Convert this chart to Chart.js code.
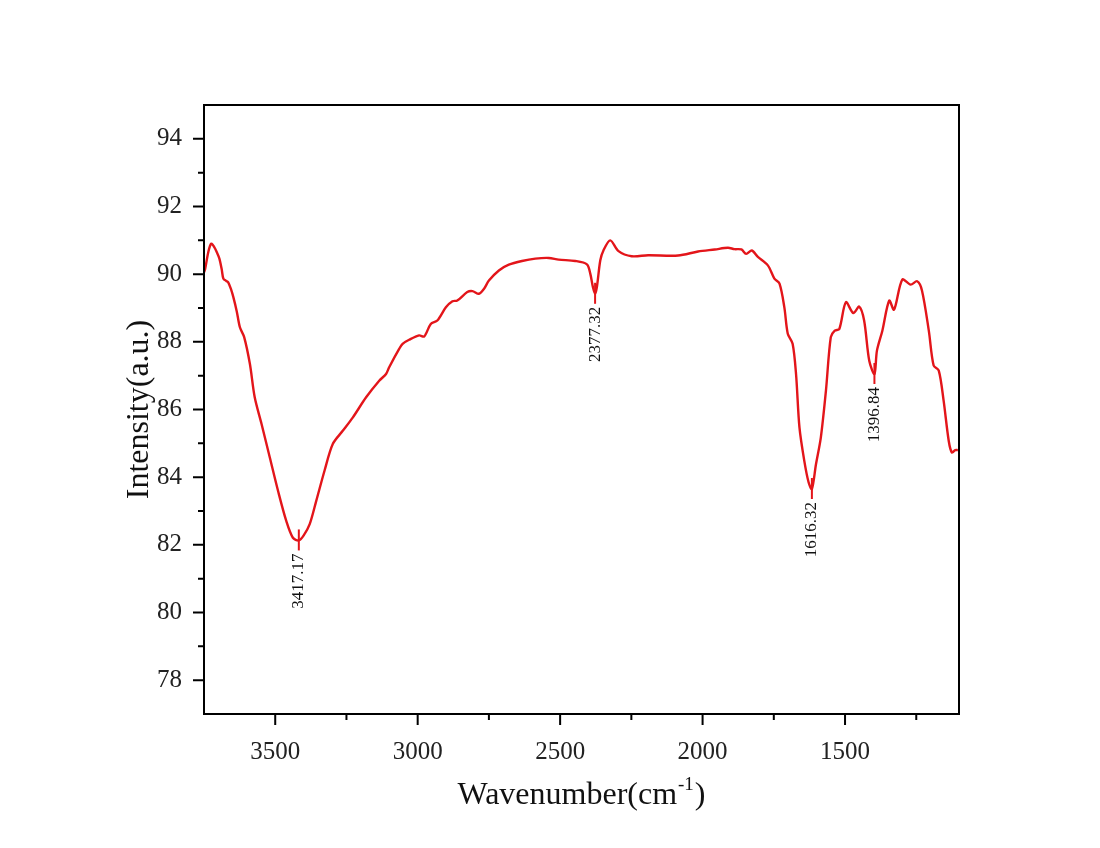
<!DOCTYPE html>
<html>
<head>
<meta charset="utf-8">
<title>FTIR spectrum</title>
<script src="https://cdn.jsdelivr.net/npm/chart.js@4/dist/chart.umd.min.js"></script>
<style>
  body { margin: 0; background: #fff; }
  canvas { display: block; }
</style>
</head>
<body>
<canvas id="ftirChart" width="1100" height="848"></canvas>
<script>
// Spectrum: wavenumber (cm-1) and intensity (a.u.)
const wavenumbers = [
  3750, 3746, 3735, 3725, 3714, 3705, 3696, 3688, 3682, 3672, 3665, 3655, 3647, 3635,
  3624, 3609, 3589, 3572, 3548, 3519, 3490, 3461, 3438, 3417.17, 3400, 3379, 3356,
  3327, 3298, 3263, 3228, 3181, 3135, 3111, 3100, 3065, 3053, 3030, 2995, 2977, 2954,
  2931, 2901, 2878, 2861, 2826, 2808, 2785, 2767, 2750, 2715, 2680, 2634, 2587, 2540,
  2505, 2447, 2406, 2394, 2385, 2377.32, 2371, 2359, 2348, 2324, 2295, 2249, 2191,
  2086, 2016, 1957, 1911, 1888, 1864, 1847, 1827, 1806, 1771, 1748, 1730, 1713, 1701,
  1684, 1672, 1660, 1643, 1628, 1616.32, 1602, 1585, 1567, 1550, 1536, 1520, 1497,
  1471, 1450, 1433, 1415, 1396.84, 1388, 1369, 1345, 1328, 1299, 1270, 1247, 1230,
  1206, 1189, 1171, 1154, 1136, 1125, 1113, 1104
];
const intensity = [
  90.05, 90.15, 90.65, 90.90, 90.80, 90.65, 90.46, 90.15, 89.87, 89.80, 89.76, 89.55, 89.32, 88.90,
  88.43, 88.14, 87.35, 86.36, 85.57, 84.58, 83.59, 82.70, 82.21, 82.13, 82.28, 82.61, 83.30,
  84.19, 84.98, 85.37, 85.76, 86.36, 86.85, 87.05, 87.25, 87.79, 87.94, 88.06, 88.19, 88.16, 88.53,
  88.63, 89.02, 89.20, 89.22, 89.47, 89.50, 89.42, 89.57, 89.81, 90.11, 90.28, 90.39, 90.46, 90.48,
  90.43, 90.39, 90.29, 90.01, 89.62, 89.42, 89.62, 90.41, 90.70, 91.00, 90.68, 90.53, 90.56,
  90.55, 90.67, 90.73, 90.78, 90.74, 90.73, 90.60, 90.70, 90.51, 90.26, 89.87, 89.72, 89.02, 88.24,
  87.94, 87.05, 85.47, 84.48, 83.85, 83.65, 84.38, 85.17, 86.56, 88.14, 88.33, 88.38, 89.17,
  88.85, 89.04, 88.63, 87.44, 87.05, 87.74, 88.33, 89.22, 88.95, 89.84, 89.69, 89.79, 89.52,
  88.33, 87.30, 87.15, 86.26, 85.07, 84.73, 84.80, 84.80
];

// Labelled absorption peaks
const peakWavenumbers = [3417.17, 2377.32, 1616.32, 1396.84];
const peakIntensity = [82.13, 89.42, 83.65, 87.05];

// Tick positions
const xMajorTicks = [3500, 3000, 2500, 2000, 1500];
const xMinorTicks = [3250, 2750, 2250, 1750, 1250];
const yMajorTicks = [78, 80, 82, 84, 86, 88, 90, 92, 94];
const yMinorTicks = [79, 81, 83, 85, 87, 89, 91, 93];

const SERIF = '"Liberation Serif", "Times New Roman", serif';
const RED = '#e3151a';

// frame, tick marks, axis titles and peak labels
const decorations = {
  id: 'decorations',
  afterDraw(chart) {
    const { ctx, chartArea: a, scales: { x, y } } = chart;
    ctx.save();

    // box around the plot
    ctx.strokeStyle = '#000';
    ctx.lineWidth = 2;
    ctx.strokeRect(a.left, a.top, a.right - a.left, a.bottom - a.top);

    // outward tick marks
    ctx.beginPath();
    xMajorTicks.forEach(v => { const px = x.getPixelForValue(v); ctx.moveTo(px, a.bottom); ctx.lineTo(px, a.bottom + 11); });
    xMinorTicks.forEach(v => { const px = x.getPixelForValue(v); ctx.moveTo(px, a.bottom); ctx.lineTo(px, a.bottom + 6); });
    yMajorTicks.forEach(v => { const py = y.getPixelForValue(v); ctx.moveTo(a.left, py); ctx.lineTo(a.left - 11, py); });
    yMinorTicks.forEach(v => { const py = y.getPixelForValue(v); ctx.moveTo(a.left, py); ctx.lineTo(a.left - 6, py); });
    ctx.stroke();

    // peak markers and rotated labels
    peakWavenumbers.forEach((wn, i) => {
      const px = x.getPixelForValue(wn);
      const py = y.getPixelForValue(peakIntensity[i]);
      ctx.strokeStyle = RED;
      ctx.lineWidth = 2;
      ctx.beginPath();
      ctx.moveTo(px, py - 11);
      ctx.lineTo(px, py + 10);
      ctx.stroke();

      ctx.save();
      ctx.translate(px, py + 13);
      ctx.rotate(-Math.PI / 2);
      ctx.fillStyle = '#111';
      ctx.font = '17px ' + SERIF;
      ctx.textAlign = 'right';
      ctx.textBaseline = 'middle';
      ctx.fillText(wn.toFixed(2), 0, 0);
      ctx.restore();
    });

    // x title with superscript
    ctx.fillStyle = '#111';
    ctx.textBaseline = 'alphabetic';
    ctx.textAlign = 'left';
    const big = '32px ' + SERIF, small = '19px ' + SERIF;
    ctx.font = big;
    const w1 = ctx.measureText('Wavenumber(cm').width;
    const w3 = ctx.measureText(')').width;
    ctx.font = small;
    const w2 = ctx.measureText('-1').width + 2;
    const tx = (a.left + a.right) / 2 - (w1 + w2 + w3) / 2;
    const base = 804;
    ctx.font = big;
    ctx.fillText('Wavenumber(cm', tx, base);
    ctx.font = small;
    ctx.fillText('-1', tx + w1 + 1, base - 14);
    ctx.font = big;
    ctx.fillText(')', tx + w1 + w2, base);

    // y title
    ctx.save();
    ctx.translate(148, (a.top + a.bottom) / 2);
    ctx.rotate(-Math.PI / 2);
    ctx.textAlign = 'center';
    ctx.font = '32px ' + SERIF;
    ctx.fillText('Intensity(a.u.)', 0, 0);
    ctx.restore();

    ctx.restore();
  }
};

const ctx = document.getElementById('ftirChart').getContext('2d');
const ftirChart = new Chart(ctx, {
  type: 'line',
  data: {
    datasets: [{
      data: wavenumbers.map((wn, i) => ({ x: wn, y: intensity[i] })),
      borderColor: RED,
      borderWidth: 2.4,
      pointRadius: 0,
      fill: false,
      tension: 0.3
    }]
  },
  options: {
    responsive: false,
    animation: false,
    devicePixelRatio: 1,
    layout: { padding: { top: 105, right: 141, bottom: 0, left: 0 } },
    plugins: {
      legend: { display: false },
      tooltip: { enabled: false }
    },
    scales: {
      x: {
        type: 'linear',
        reverse: true,
        min: 1100,
        max: 3750,
        afterBuildTicks: s => { s.ticks = xMajorTicks.map(v => ({ value: v })); },
        afterFit: s => { s.height = 134; },
        border: { display: false },
        grid: { display: true, drawOnChartArea: false, drawTicks: false },
        ticks: {
          padding: 23,
          color: '#222',
          font: { family: SERIF, size: 25 },
          maxRotation: 0,
          autoSkip: false,
          callback: v => String(v)
        }
      },
      y: {
        min: 77,
        max: 95,
        afterBuildTicks: s => { s.ticks = yMajorTicks.map(v => ({ value: v })); },
        afterFit: s => { s.width = 204; },
        border: { display: false },
        grid: { display: true, drawOnChartArea: false, drawTicks: false },
        ticks: {
          padding: 22,
          color: '#222',
          font: { family: SERIF, size: 25 },
          callback: v => String(v)
        }
      }
    }
  },
  plugins: [decorations]
});
</script>
</body>
</html>
